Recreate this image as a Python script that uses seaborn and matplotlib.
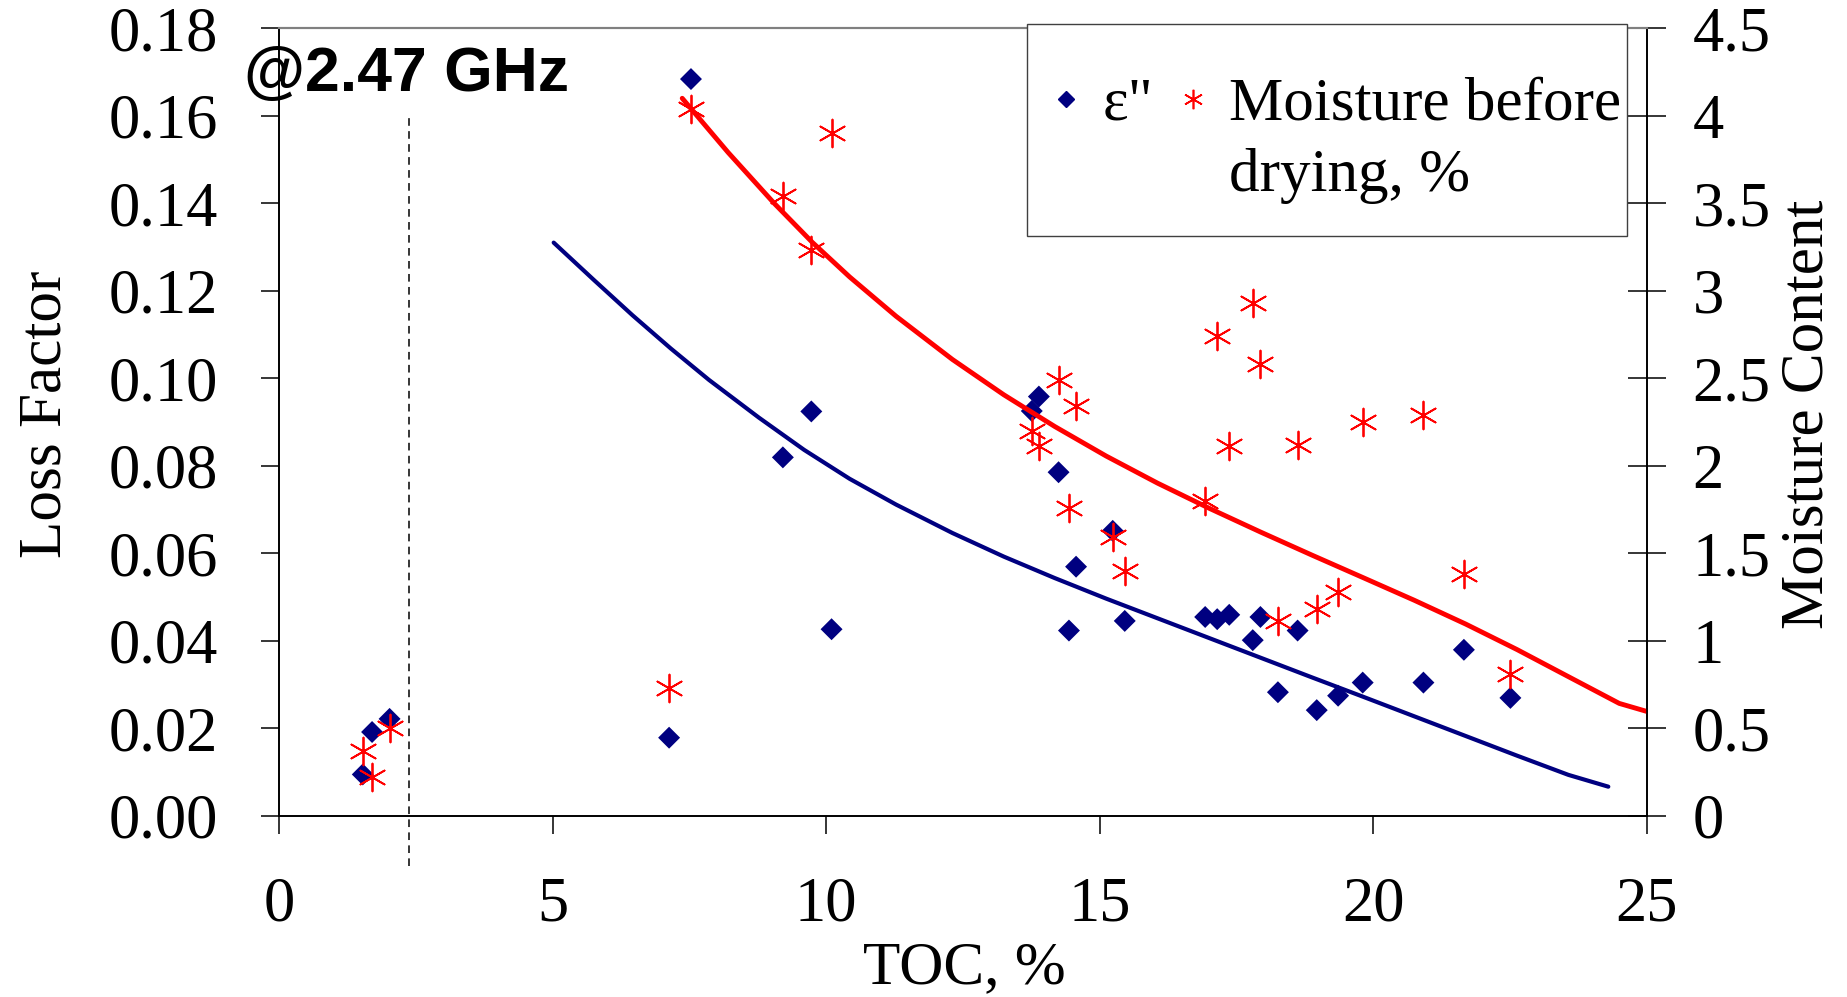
import matplotlib
matplotlib.use("Agg")
import matplotlib.pyplot as plt
from matplotlib.lines import Line2D
from matplotlib.patches import Rectangle
from matplotlib.legend_handler import HandlerLine2D
import seaborn as sns
import pandas as pd

# measured samples: TOC (%), loss factor (eps'') and moisture before drying (%)
toc = [1.53, 1.70, 2.02, 7.13, 7.53, 9.21, 9.73, 10.10, 13.76, 13.89, 14.25, 14.44, 14.57, 15.24,
       15.46, 16.93, 17.15, 17.37, 17.80, 17.94, 18.26, 18.62, 18.97, 19.36, 19.81, 20.92, 21.66, 22.51]
loss_factor = [0.0094, 0.0191, 0.0221, 0.0178, 0.1684, 0.0819, 0.0924, 0.0426, 0.0925, 0.0958, 0.0785,
               0.0423, 0.0569, 0.0651, 0.0445, 0.0454, 0.0449, 0.0459, 0.0401, 0.0454, 0.0282, 0.0423,
               0.0241, 0.0274, 0.0304, 0.0304, 0.0379, 0.0269]
moisture = [0.37, 0.22, 0.50, 0.73, 4.04, 3.54, 3.23, 3.90, 2.20, 2.11, 2.49, 1.76, 2.34, 1.59, 1.40,
            1.80, 2.74, 2.11, 2.93, 2.58, 1.11, 2.12, 1.18, 1.28, 2.25, 2.29, 1.38, 0.81]

# trend curves
loss_trend_x = [5.02, 5.76, 6.46, 7.16, 7.86, 8.77, 9.60, 10.43, 11.28, 12.31, 13.25, 14.18, 15.12,
                16.06, 17.00, 17.94, 18.88, 19.81, 20.75, 21.69, 22.63, 23.57, 24.30]
loss_trend_y = [0.131, 0.1224, 0.1144, 0.1068, 0.0996, 0.0910, 0.0836, 0.0770, 0.0711, 0.0646, 0.0592,
                0.0543, 0.0496, 0.0451, 0.0406, 0.0361, 0.0316, 0.0272, 0.0227, 0.0182, 0.0137,
                0.0093, 0.0066]
moist_trend_x = [7.37, 8.21, 9.05, 9.75, 10.43, 11.28, 12.31, 13.25, 14.18, 15.12, 16.06, 17.00, 17.94,
                 18.88, 19.81, 20.75, 21.69, 22.63, 23.57, 24.50, 25.06]
moist_trend_y = [4.10, 3.79, 3.50, 3.276, 3.079, 2.854, 2.607, 2.405, 2.224, 2.055, 1.900, 1.757, 1.621,
                 1.489, 1.361, 1.231, 1.095, 0.949, 0.794, 0.641, 0.59]

cutoff_toc = 2.37
left_ticks = [0.00, 0.02, 0.04, 0.06, 0.08, 0.10, 0.12, 0.14, 0.16, 0.18]
right_ticks = [0, 0.5, 1, 1.5, 2, 2.5, 3, 3.5, 4, 4.5]
x_ticks = [0, 5, 10, 15, 20, 25]

navy = "#000080"
red = "#FF0000"

df = pd.DataFrame({"toc": toc, "loss": loss_factor, "moisture": moisture})


class RaisedHandler(HandlerLine2D):
    # put the legend marker on the first text line instead of the middle
    def __init__(self, shift, **kw):
        super().__init__(**kw)
        self.shift = shift

    def create_artists(self, legend, orig_handle, xdescent, ydescent, width, height, fontsize, trans):
        artists = super().create_artists(legend, orig_handle, xdescent, ydescent, width, height, fontsize, trans)
        for a in artists:
            a.set_ydata([y + self.shift for y in a.get_ydata()])
        return artists


sns.set_style("ticks")
plt.rcParams["font.family"] = ["Liberation Serif", "DejaVu Serif"]
plt.rcParams["text.color"] = "black"
plt.rcParams["xtick.color"] = "black"
plt.rcParams["ytick.color"] = "black"
plt.rcParams["axes.labelcolor"] = "black"

fig = plt.figure(figsize=(18.47, 9.97), dpi=100)
ax = fig.add_axes([0.1511, 0.1820, 0.7404, 0.7896])
ax2 = ax.twinx()

sns.lineplot(x=loss_trend_x, y=loss_trend_y, ax=ax, color=navy, linewidth=3, sort=False, estimator=None,
             solid_joinstyle="round")
sns.scatterplot(data=df, x="toc", y="loss", ax=ax, marker="D", s=125, color=navy, edgecolor="none", zorder=3)

sns.lineplot(x=moist_trend_x, y=moist_trend_y, ax=ax2, color=red, linewidth=3.5, sort=False, estimator=None,
             solid_joinstyle="round")
sns.scatterplot(data=df, x="toc", y="moisture", ax=ax2, marker=(6, 2, 0), s=400, color=red, linewidth=1.3,
                zorder=3)

ax.axvline(cutoff_toc, ymin=-0.064, ymax=0.889, color="black", ls=(0, (5, 3.5)), lw=1.1, clip_on=False)

ax.set_xlim(0, 25)
ax.set_ylim(0, 0.18)
ax2.set_ylim(0, 4.5)
ax.set_xticks(x_ticks)
ax.set_xticklabels([str(t) for t in x_ticks])
ax.set_yticks(left_ticks)
ax.set_yticklabels([f"{t:.2f}" for t in left_ticks])
ax2.set_yticks(right_ticks)
ax2.set_yticklabels([f"{t:g}" for t in right_ticks])
ax.set_xlabel("")
ax.set_ylabel("")
ax2.set_ylabel("")

ax.tick_params(axis="both", direction="out", length=13, width=1.1, pad=31, labelsize=45, colors="black")
ax2.tick_params(axis="y", direction="inout", length=27, width=1.1, pad=19.5, labelsize=45, colors="black")

for a in (ax, ax2):
    for side in ("left", "right", "bottom"):
        a.spines[side].set_color("black")
        a.spines[side].set_linewidth(1.2)
    a.spines["top"].set_color("#808080")
    a.spines["top"].set_linewidth(1.5)

fig.text(0.132, 0.909, "@2.47 GHz", fontfamily="Liberation Sans", fontweight="bold", fontsize=45,
         va="baseline", color="black")
fig.text(0.0245, 0.584, "Loss Factor", rotation=90, ha="center", va="center", fontsize=44)
fig.text(0.979, 0.584, "Moisture Content", rotation=90, ha="center", va="center", fontsize=44)
fig.text(0.522, 0.014, "TOC, %", ha="center", va="baseline", fontsize=44)

# legend frame drawn by hand so it can sit tight against the text like the original
ax2.add_patch(Rectangle((0.5469, 0.7365), 0.4385, 0.2695, transform=ax2.transAxes, facecolor="white",
                        edgecolor="#404040", linewidth=1.0, clip_on=False, zorder=4.5))

h_eps = Line2D([], [], ls="none", marker="D", ms=8, color=navy)
h_moist = Line2D([], [], ls="none", marker=(6, 2, 0), ms=14, mew=1.2, color=red)
labels = ['ε"\n ', "Moisture before\ndrying, %"]
shift = 29.5
leg = ax2.legend([h_eps, h_moist], labels, ncol=2, loc="upper left", bbox_to_anchor=(0.5685, 0.9386),
                 frameon=False, fontsize=44, handlelength=0.3, handletextpad=0.45, columnspacing=0.5,
                 borderpad=0, borderaxespad=0,
                 handler_map={h_eps: RaisedHandler(shift), h_moist: RaisedHandler(shift)})
for t in leg.get_texts():
    t.set_linespacing(1.36)

fig.savefig("out.png", dpi=100)
